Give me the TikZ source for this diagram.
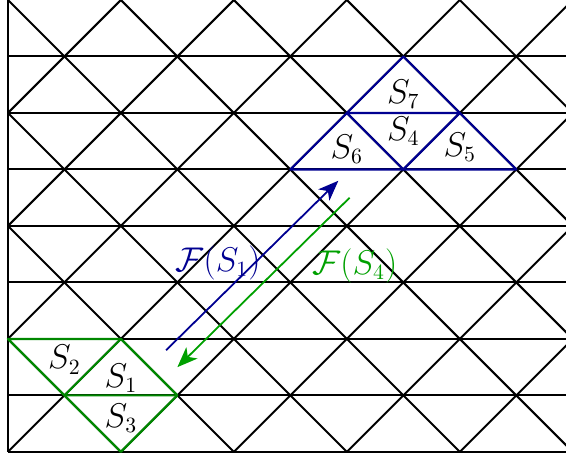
\documentclass[tikz,border=0pt]{standalone}
\usetikzlibrary{arrows.meta}
\definecolor{triblue}{RGB}{0,0,145}
\definecolor{trigreen}{RGB}{0,135,0}
\definecolor{arrgreen}{RGB}{0,160,0}
\begin{document}
\begin{tikzpicture}[
    every node/.style={font=\fontsize{16}{19}\selectfont},
    lattice/.style={line width=1pt},
    tri/.style={line width=1.1pt, line join=round},
    arrow/.style={-{Stealth[length=3.6mm,width=2.8mm,inset=1mm]}, line width=0.9pt}
]
\useasboundingbox (-0.14,-0.09) rectangle (9.88,8);
% triangular lattice
\begin{scope}
\clip (0,-0.09) rectangle (9.88,8);
\foreach \y in {0,...,7} \draw[lattice] (0,\y) -- (10,\y);
\foreach \k in {-6,-4,...,8} \draw[lattice] (\k,0) -- (\k+8,8);
\foreach \k in {2,4,...,16} \draw[lattice] (\k,0) -- (\k-8,8);
\end{scope}
\draw[lattice] (0,0) -- (0,8);

% green cell group
\draw[tri, trigreen] (0,2) -- (2,2) -- (3,1) -- (2,0) -- cycle;
\draw[tri, trigreen] (2,2) -- (1,1) -- (3,1);
% blue cell group
\draw[tri, triblue] (5,5) -- (9,5) -- (7,7) -- cycle;
\draw[tri, triblue] (6,6) -- (8,6) -- (7,5) -- cycle;

\node (s1) at (2,1.31) {$S_1$};
\node (s2) at (1,1.63) {$S_2$};
\node (s3) at (2,0.6) {$S_3$};
\node (s4) at (7,5.67) {$S_4$};
\node (s5) at (8,5.4) {$S_5$};
\node (s6) at (6,5.36) {$S_6$};
\node (s7) at (7,6.33) {$S_7$};

% maps between the groups
\coordinate (f1from) at (2.8,1.8);
\coordinate (f1to) at (5.85,4.8);
\coordinate (f4from) at (6.05,4.5);
\coordinate (f4to) at (3.0,1.5);
\draw[arrow, triblue] (f1from) -- (f1to);
\draw[arrow, arrgreen] (f4from) -- (f4to);
\node[text=triblue] (lf1) at (3.72,3.35) {$\mathcal{F}(S_1)$};
\node[text=arrgreen] (lf4) at (6.14,3.29) {$\mathcal{F}(S_4)$};
\end{tikzpicture}
\end{document}
